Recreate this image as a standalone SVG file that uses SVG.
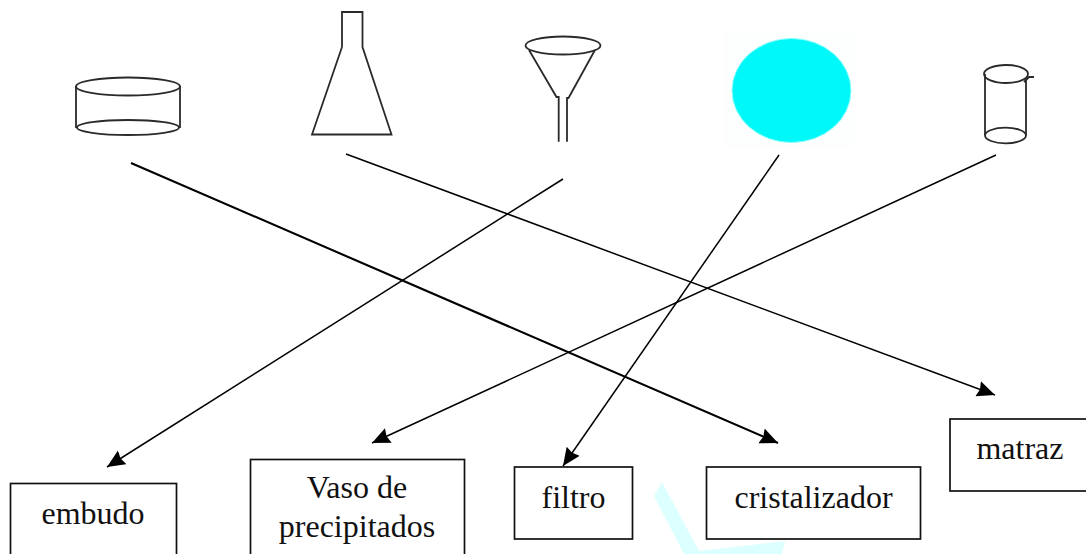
<svg xmlns="http://www.w3.org/2000/svg" width="1086" height="554" viewBox="0 0 1086 554">
<style>
.ink{fill:none;stroke:#2a2a2a;stroke-width:1.8}
.box{fill:#fff;stroke:#111;stroke-width:1.7}
.con{stroke:#000;stroke-width:1.5;fill:none;marker-end:url(#ah)}
.thick{stroke-width:2.1}
text{font-family:"Liberation Serif","Times New Roman",serif;font-size:32px;fill:#111;text-anchor:middle}
</style>
<defs>
<marker id="ah" markerUnits="userSpaceOnUse" markerWidth="20" markerHeight="18" refX="18" refY="8" orient="auto">
<path d="M0,0 L18,8 L0,16 L2,8 Z" fill="#000"/>
</marker>
</defs>
<rect width="1086" height="554" fill="#fff"/>
<polygon points="662,482 654,496 684,554 782,554 785,541 699,551" fill="#dcffff"/>
<g id="cristalizador-icon" class="ink">
<ellipse cx="128" cy="86.500" rx="52" ry="9"/>
<ellipse cx="128" cy="127.500" rx="51" ry="7.500"/>
<path d="M76,86V128M180,86V128"/>
</g>
<g id="matraz-icon" class="ink">
<path d="M342,47V12H362.500V47L391.500,134.500H312L342,47"/>
</g>
<g id="embudo-icon" class="ink">
<ellipse cx="563" cy="45.500" rx="37.500" ry="9"/>
<path d="M529,50L556.500,97H558.700V141.700M595,50L568.500,98H567V141.700"/>
</g>
<g id="filtro-icon">
<rect x="724" y="31" width="130" height="117" fill="#fdfefe"/>
<ellipse cx="791.500" cy="90.500" rx="59.500" ry="52" fill="#00f8f8" stroke="#90ffff" stroke-width="1"/>
</g>
<g id="vaso-icon" class="ink">
<ellipse cx="1006" cy="74" rx="22" ry="9"/>
<ellipse cx="1005.500" cy="135.500" rx="20.500" ry="7.800"/>
<path d="M985,74V135M1026,80V135M1024,82L1029,77H1034"/>
</g>
<g id="connectors">
<line class="con thick" x1="131" y1="163" x2="778" y2="443"/>
<line class="con" x1="346" y1="154" x2="995" y2="395"/>
<line class="con" x1="563" y1="179" x2="107" y2="467"/>
<line class="con" x1="779" y1="155" x2="563" y2="466"/>
<line class="con" x1="996" y1="155" x2="372" y2="443"/>
</g>
<g id="embudo">
<rect class="box" x="10.500" y="483.500" width="166" height="80"/>
<text x="93" y="524">embudo</text>
</g>
<g id="vaso">
<rect class="box" x="250.500" y="459.500" width="214" height="104"/>
<text x="357" y="498">Vaso de</text>
<text x="357" y="537">precipitados</text>
</g>
<g id="filtro">
<rect class="box" x="514.500" y="467" width="118" height="72"/>
<text x="573.500" y="508">filtro</text>
</g>
<g id="cristalizador">
<rect class="box" x="706.500" y="467" width="214" height="72"/>
<text x="813.500" y="508">cristalizador</text>
</g>
<g id="matraz">
<rect class="box" x="950" y="419" width="146" height="72"/>
<text x="1020" y="459">matraz</text>
</g>
</svg>
